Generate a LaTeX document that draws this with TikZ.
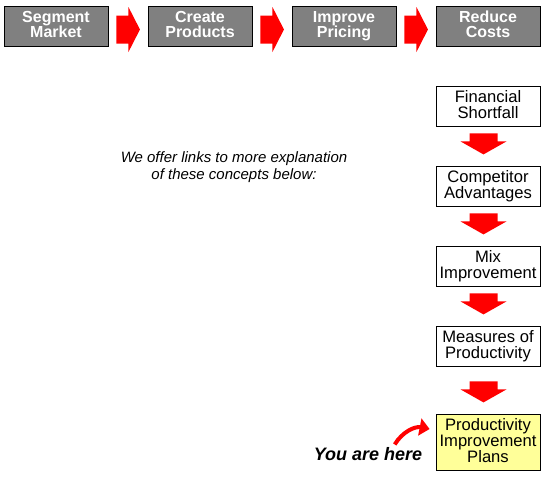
\documentclass[tikz,border=0pt]{standalone}
\usepackage{fontspec}
\setmainfont{Liberation Sans}
\usepackage{xcolor}
\usetikzlibrary{positioning, arrows.meta}

\definecolor{boxgray}{HTML}{808080}
\definecolor{notered}{HTML}{FF0000}
\definecolor{hereyellow}{HTML}{FFFF99}

% block arrows, #1 = tail centre / top centre
\newcommand{\rightblock}[1]{\fill[notered] (#1) ++(0,14pt) -- ++(12pt,0) -- ++(0,8.5pt) -- ++(11.5pt,-22.5pt) -- ++(-11.5pt,-22.5pt) -- ++(0,8.5pt) -- ++(-12pt,0) -- cycle;}
\newcommand{\downblock}[1]{\fill[notered] (#1) ++(-14pt,0) -- ++(28pt,0) -- ++(0,-8pt) -- ++(9pt,0) -- ++(-23pt,-13pt) -- ++(-23pt,13pt) -- ++(9pt,0) -- cycle;}

\begin{document}
\begin{tikzpicture}[on grid, node distance=80pt,
    topbox/.style={draw=black, line width=0.9pt, fill=boxgray, text=white,
        font=\bfseries\fontsize{16}{15.5}\selectfont, align=center,
        minimum width=104pt, minimum height=40pt, inner sep=0pt,
        execute at end node=\vphantom{g}},
    stepbox/.style={draw=black, line width=0.8pt, fill=white,
        font=\fontsize{16.6}{16.2}\selectfont, align=center,
        minimum width=104pt, minimum height=40pt, inner sep=0pt,
        execute at end node=\vphantom{g}}]
        \useasboundingbox (0,0) rectangle (546pt,-483pt);

        \node[topbox] (seg) at (56pt,-26pt) {Segment\\Market};
        \node[topbox, right=144pt of seg] (cre) {Create\\Products};
        \node[topbox, right=144pt of cre] (imp) {Improve\\Pricing};
        \node[topbox, right=144pt of imp] (red) {Reduce\\Costs};

        \node[stepbox, below=of red] (fin) {Financial\\Shortfall};
        \node[stepbox, below=of fin] (comp) {Competitor\\Advantages};
        \node[stepbox, below=of comp] (mix) {Mix\\Improvement};
        \node[stepbox, below=of mix] (meas) {Measures of\\Productivity};
        \node[stepbox, fill=hereyellow, minimum height=56pt, below=96pt of meas] (prod) {Productivity\\Improvement\\Plans};

        \node[font=\itshape\fontsize{15}{17}\selectfont, align=center] (offer) at (234pt,-167pt)
            {We offer links to more explanation\\of these concepts below:};
        \node[font=\bfseries\itshape\fontsize{18}{18}\selectfont, anchor=base] (here) at (368pt,-460pt) {You are here};

        \foreach \a in {seg, cre, imp} {
            \coordinate (r-\a) at ([xshift=8pt, yshift=-3.5pt]\a.east);
            \rightblock{r-\a}
        }
        \foreach \a in {fin, comp, mix} {
            \coordinate (d-\a) at ([xshift=-4.5pt, yshift=-7pt]\a.south);
            \downblock{d-\a}
        }
        \coordinate (d-meas) at ([xshift=-4.5pt, yshift=-15pt]meas.south);
        \downblock{d-meas}

        \coordinate (tail) at ([xshift=-31pt, yshift=-1pt]here.north east);
        \coordinate (tip) at ([xshift=-6pt, yshift=13pt]prod.west);
        \draw[notered, line width=4pt, -{Triangle[length=10pt, width=17pt]}] (tail) to[bend left=35] (tip);
\end{tikzpicture}
\end{document}
